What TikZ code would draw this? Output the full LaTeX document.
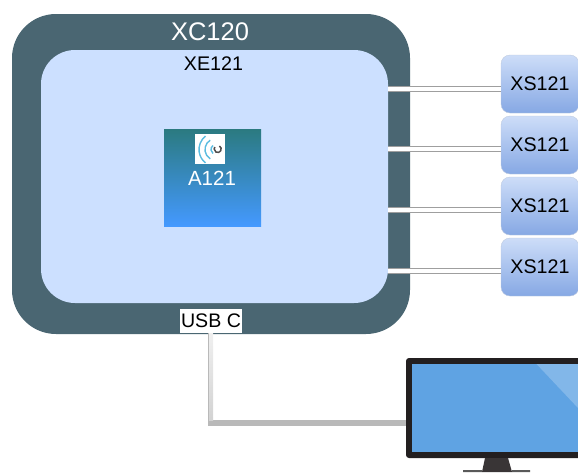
\documentclass[tikz,border=0pt]{standalone}
\usepackage{fontspec}
\setmainfont{Liberation Sans}
\definecolor{boardcol}{HTML}{4A6672}
\definecolor{modulecol}{HTML}{CCE0FF}
\definecolor{screencol}{HTML}{5FA3E3}
\definecolor{framecol}{HTML}{231F20}
\definecolor{chiptop}{HTML}{2B7A80}
\definecolor{chipbottom}{HTML}{4499FF}
\definecolor{sensortop}{HTML}{CDDDF8}
\definecolor{sensorbottom}{HTML}{86A8E4}
\definecolor{arccol}{HTML}{5BBCE0}
\begin{document}
\begin{tikzpicture}[
        x=1pt, y=-1pt,
        board/.style={rectangle, fill=boardcol, rounded corners=44pt, minimum width=398pt, minimum height=320pt, inner sep=0pt, outer sep=0pt},
        module/.style={rectangle, fill=modulecol, rounded corners=34pt, minimum width=347pt, minimum height=253pt, inner sep=0pt, outer sep=0pt},
        chip/.style={rectangle, top color=chiptop, bottom color=chipbottom, minimum size=97pt, inner sep=0pt, outer sep=0pt},
        sensor/.style={rectangle, draw=sensortop!80!gray, top color=sensortop, bottom color=sensorbottom, rounded corners=9pt, minimum width=78pt, minimum height=58pt, inner sep=0pt, outer sep=0pt, font=\fontsize{19.7}{22}\selectfont},
        port/.style={rectangle, fill=white, minimum width=62pt, minimum height=24pt, inner sep=0pt, outer sep=0pt, font=\fontsize{19.6}{22}\selectfont},
        link/.style={draw=gray!75, double=white, double distance=4pt, line width=1pt},
        usbcable/.style={draw=gray!55, line width=5.5pt},
        arcline/.style={arccol, line width=1.4pt},
    ]
    \useasboundingbox (0,0) rectangle (578,472);
    \clip (0,0) rectangle (578,472);
    % Nodes
    \node[board] (xc) at (211,174) {};
    \node[white, font=\fontsize{25.5}{28}\selectfont] (xclabel) at (210,32) {XC120};
    \node[module] (xe) at (214.5,176.5) {};
    \node[font=\fontsize{19.7}{22}\selectfont] (xelabel) at (213.5,64) {XE121};
    \node[chip] (a) at (212.5,177.5) {};
    \node[rectangle, fill=white, minimum size=30pt, inner sep=0pt] (logo) at (210,149) {};
    \node[white, font=\fontsize{20.5}{23}\selectfont] (alabel) at (212,178) {A121};
    \node[sensor] (xs1) at (540,84) {XS121};
    \node[sensor] (xs2) at (540,145) {XS121};
    \node[sensor] (xs3) at (540,206) {XS121};
    \node[sensor] (xs4) at (540,267) {XS121};
    \node[port] (usb) at (211,321) {USB C};
    \node[rectangle, fill=framecol, rounded corners=3pt, minimum width=200pt, minimum height=100pt, inner sep=0pt, outer sep=0pt] (monitor) at (506,408) {};
    \coordinate (tap1) at (388,88.5);
    \coordinate (tap2) at (388,149);
    \coordinate (tap3) at (388,209.5);
    \coordinate (tap4) at (388,270.5);
    \coordinate (plug) at (406,423);
    \coordinate (usbout) at (210.5,333);
    % Logo
    \draw[arcline] (logo.center) ++(6,0.5) ++(128:17pt) arc[start angle=128, end angle=232, radius=17pt];
    \draw[arcline] (logo.center) ++(6,0.5) ++(122:11pt) arc[start angle=122, end angle=238, radius=11pt];
    \draw[arcline] (logo.center) ++(6,0.5) ++(127:5pt) arc[start angle=127, end angle=233, radius=5pt];
    \draw[framecol!80, line width=1.5pt] (logo.center) ++(7.7,0) ++(60:3.5pt) arc[start angle=60, end angle=-215, radius=3.5pt];
    % Edges
    \draw[link] (tap1) -- (tap1 -| xs1.west);
    \draw[link] (tap2) -- (tap2 -| xs2.west);
    \draw[link] (tap3) -- (tap3 -| xs3.west);
    \draw[link] (tap4) -- (tap4 -| xs4.west);
    \draw[usbcable] (usbout) |- (plug);
    \shade[top color=gray!12, bottom color=gray!35] (209,333) rectangle (213,420);
    % Monitor
    \fill[screencol] (412,364) rectangle (578,452);
    \fill[white, opacity=0.22] (536.5,364) -- (578,364) -- (578,408) -- cycle;
    \fill[framecol!90] (485,458) -- (508,458) -- (512,472) -- (482,472) -- cycle;
    \fill[gray!70!black] (463,470) rectangle (482,472) (512,470) rectangle (530,472);
\end{tikzpicture}
\end{document}
